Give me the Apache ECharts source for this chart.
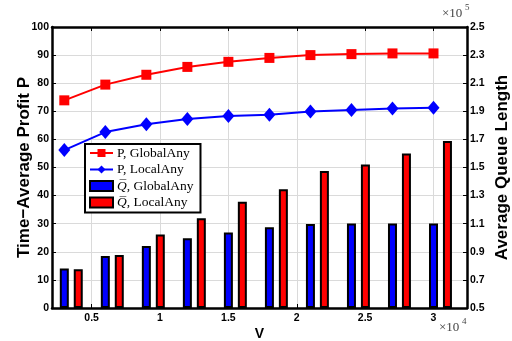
<!DOCTYPE html>
<html><head><meta charset="utf-8">
<script src="https://cdn.jsdelivr.net/npm/echarts@6/dist/echarts.min.js"></script>
<style>html,body{margin:0;padding:0;background:#fff}#c{width:512px;height:341px}</style>
</head><body><div id="c"></div>
<script>
// V in units of 1e4
const V = [0.3, 0.6, 0.9, 1.2, 1.5, 1.8, 2.1, 2.4, 2.7, 3.0];
const pGlobal = [73.9, 79.5, 83.0, 85.8, 87.6, 89.0, 90.0, 90.35, 90.6, 90.6];
const pLocal  = [56.2, 62.6, 65.4, 67.3, 68.3, 68.8, 69.9, 70.5, 71.0, 71.3];
// Queue length in units of 1e5
const qGlobal = [0.782, 0.870, 0.942, 0.996, 1.038, 1.074, 1.098, 1.102, 1.102, 1.102];
const qLocal  = [0.776, 0.878, 1.024, 1.138, 1.256, 1.346, 1.475, 1.522, 1.600, 1.688];
const xTicks = [0.5, 1, 1.5, 2, 2.5, 3];
const rightTicks = [0.5, 0.7, 0.9, 1.1, 1.3, 1.5, 1.7, 1.9, 2.1, 2.3, 2.5];

const pair = (xs, ys) => xs.map((x, i) => [x, ys[i]]);
const sans = 'Liberation Sans, Arial, sans-serif';
const serif = 'Liberation Serif, Times New Roman, serif';
const grid = {left: 52, right: 45, top: 27, bottom: 33, outerBoundsMode: 'none', containLabel: false};
const tickIn = {show: true, inside: true, length: 4, lineStyle: {color: '#000', width: 1}};
const axLine = {show: true, lineStyle: {color: '#000', width: 2.5}};
const lbl = {color: '#000', fontFamily: sans, fontWeight: 'bold', fontSize: 10.5};
const title = {color: '#000', fontFamily: sans, fontWeight: 'bold', fontSize: 17};
const gridLine = {show: true, lineStyle: {color: '#dadada', width: 1, type: 'solid'}};

const chart = echarts.init(document.getElementById('c'));
chart.setOption({
  animation: false,
  backgroundColor: '#fff',
  grid: grid,
  xAxis: [{
    type: 'value', min: 0.21, max: 3.245, position: 'bottom',
    name: 'V', nameLocation: 'middle', nameGap: 19, nameMoveOverlap: false,
    nameTextStyle: Object.assign({}, title, {fontSize: 14}),
    axisLine: axLine,
    axisTick: Object.assign({customValues: xTicks}, tickIn),
    axisLabel: Object.assign({customValues: xTicks, margin: 5, formatter: v => String(v)}, lbl),
    splitLine: gridLine
  }, {
    type: 'value', min: 0.21, max: 3.245, position: 'top',
    axisLine: axLine,
    axisTick: Object.assign({customValues: xTicks}, tickIn),
    axisLabel: {show: false, customValues: xTicks},
    splitLine: {show: false}
  }],
  yAxis: [{
    type: 'value', min: 0, max: 100, interval: 10, position: 'left',
    name: 'Time\u2212Average Profit P', nameLocation: 'middle', nameGap: 19, nameMoveOverlap: false,
    nameTextStyle: title,
    axisLine: axLine, axisTick: tickIn,
    axisLabel: Object.assign({margin: 3}, lbl),
    splitLine: gridLine
  }, {
    type: 'value', min: 0.5, max: 2.5, position: 'right', startValue: 0.5,
    name: 'Average Queue Length', nameLocation: 'middle', nameGap: 27, nameMoveOverlap: false,
    nameTextStyle: title,
    axisLine: axLine,
    axisTick: Object.assign({customValues: rightTicks}, tickIn),
    axisLabel: Object.assign({customValues: rightTicks, margin: 3, formatter: v => v.toFixed(1)}, lbl),
    splitLine: {show: false}
  }],
  legend: {
    orient: 'vertical', left: 85, top: 144,
    backgroundColor: '#fff', borderColor: '#000', borderWidth: 2, borderRadius: 0,
    padding: [2, 7, 3, 4], itemGap: 2.5, itemWidth: 23, itemHeight: 10,
    textStyle: {fontFamily: serif, fontSize: 13.5, color: '#000', padding: [0, 0, 0, -1],
      rich: {q: {fontFamily: serif, fontStyle: 'italic', fontSize: 13.5, color: '#000'}}},
    formatter: function (n) {
      if (n.indexOf('Q') === 0) return '{q|Q\u0305}' + n.slice(1);
      return n;
    },
    data: [
      {name: 'P, GlobalAny'},
      {name: 'P, LocalAny'},
      {name: 'Q, GlobalAny', icon: 'rect'},
      {name: 'Q, LocalAny', icon: 'rect'}
    ]
  },
  graphic: [
    {type: 'text', left: 439, top: 321, style: {text: '\u00d710', fill: '#444', font: '13px ' + serif}},
    {type: 'text', left: 462, top: 317, style: {text: '4', fill: '#444', font: '9px ' + serif}},
    {type: 'text', left: 442, top: 7, style: {text: '\u00d710', fill: '#444', font: '13px ' + serif}},
    {type: 'text', left: 465, top: 3, style: {text: '5', fill: '#444', font: '9px ' + serif}}
  ],
  series: [
    {name: '_pad', type: 'bar', yAxisIndex: 1, barWidth: 9, barGap: '55%',
     data: V.map(v => [v, '-'])},
    {name: 'Q, GlobalAny', type: 'bar', yAxisIndex: 1, barWidth: 9, barGap: '55%',
     itemStyle: {color: '#0000ff', borderColor: '#000', borderWidth: 2},
     data: pair(V, qGlobal), z: 2},
    {name: 'Q, LocalAny', type: 'bar', yAxisIndex: 1, barWidth: 9, barGap: '55%',
     itemStyle: {color: '#ff0000', borderColor: '#000', borderWidth: 2},
     data: pair(V, qLocal), z: 2},
    {name: 'P, GlobalAny', type: 'line', yAxisIndex: 0,
     symbol: 'rect', symbolSize: 10, lineStyle: {color: '#ff0000', width: 2},
     itemStyle: {color: '#ff0000'}, data: pair(V, pGlobal), z: 3},
    {name: 'P, LocalAny', type: 'line', yAxisIndex: 0,
     symbol: 'diamond', symbolSize: [12, 14], lineStyle: {color: '#0000ff', width: 2},
     itemStyle: {color: '#0000ff'}, data: pair(V, pLocal), z: 3}
  ]
});
</script></body></html>
